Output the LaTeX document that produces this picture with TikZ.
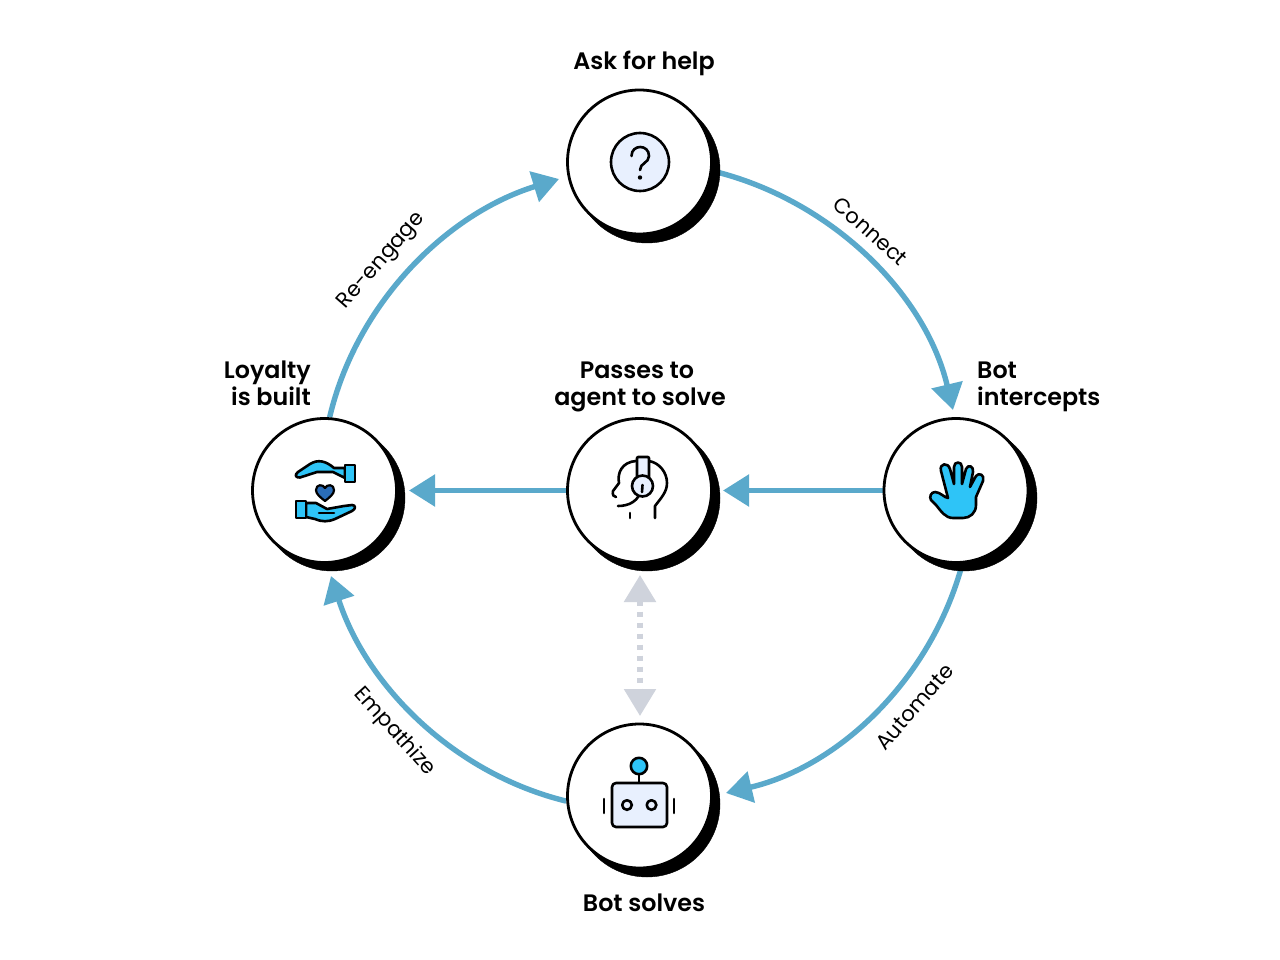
\documentclass[tikz,border=0pt]{standalone}
\usepackage{fontspec}
\setmainfont{Poppins}[BoldFont={Poppins SemiBold}]
\usetikzlibrary{arrows.meta,backgrounds}
\definecolor{flow}{HTML}{5AA9CB}
\definecolor{greyflow}{HTML}{CFD3DC}
\definecolor{sky}{HTML}{2EC4F7}
\definecolor{pale}{HTML}{E8F0FE}
\definecolor{heartc}{HTML}{2A6DB8}
\tikzset{
 shade/.style={circle,fill=black,draw=black,inner sep=0,minimum size=146pt},
 disc/.style={circle,fill=white,draw=black,line width=2.8pt,inner sep=0,minimum size=144pt},
 flowline/.style={draw=flow,line width=5.4pt,-{Triangle[length=26pt,width=31pt]}},
 greyline/.style={draw=greyflow,line width=5.5pt,dash pattern=on 5.5pt off 5.5pt,{Triangle[length=27pt,width=31pt,fill=greyflow]}-{Triangle[length=27pt,width=31pt,fill=greyflow]}},
 title/.style={font=\bfseries\fontsize{23.8}{27}\selectfont,inner sep=0},
 edgelabel/.style={font=\fontsize{21.2}{25}\selectfont,inner sep=0},
 ink/.style={draw=black,line width=2.6pt,line cap=round,line join=round},
}
\begin{document}
\begin{tikzpicture}[x=1pt,y=-1pt]
\useasboundingbox (0,0) rectangle (1280,960);
% shadows
\node[shade] (s1) at (647,170) {};
\node[shade] (s2) at (964,498) {};
\node[shade] (s3) at (647,498) {};
\node[shade] (s4) at (332,498) {};
\node[shade] (s5) at (647,804) {};
% discs
\node[disc] (ask) at (639.5,162) {};
\node[disc] (bot) at (956,490.5) {};
\node[disc] (agent) at (639.5,490.5) {};
\node[disc] (loyal) at (324.5,490.5) {};
\node[disc] (solve) at (639.5,796) {};
% arrow tips
\coordinate (t1) at (953,410);
\coordinate (t2) at (726,793);
\coordinate (t3) at (331,576);
\coordinate (t4) at (559,179);
\coordinate (t5) at (723,490.5);
\coordinate (t6) at (409,490.5);
\coordinate (g1) at (640,575);
\coordinate (g2) at (640,716);
\begin{scope}[on background layer]
\fill[white] (0,0) rectangle (1280,960);
\draw[flowline] (ask.-7) .. controls (829,199) and (925,292) .. (t1);
\draw[flowline] (bot.-85) .. controls (932,677) and (841,766) .. (t2);
\draw[flowline] (solve.184) .. controls (455,774) and (367,687) .. (t3);
\draw[flowline] (loyal.86) .. controls (356.5,303.5) and (446,214) .. (t4);
\draw[flowline] (bot.center) -- (t5);
\draw[flowline] (agent.center) -- (t6);
\draw[greyline] (g1) -- (g2);
\end{scope}
% labels
\node[title,anchor=base] (l1) at (644,70) {Ask for help};
\node[title,anchor=base west] (l2a) at (977,378) {Bot};
\node[title,anchor=base west] (l2b) at (977,405) {intercepts};
\node[title,anchor=base] (l3a) at (637,378) {Passes to};
\node[title,anchor=base] (l3b) at (640,405) {agent to solve};
\node[title,anchor=base east] (l4a) at (311,378) {Loyalty};
\node[title,anchor=base east] (l4b) at (311,405) {is built};
\node[title,anchor=base] (l5) at (644,911) {Bot solves};
\node[edgelabel,rotate=-42] (e1) at (870.5,231) {Connect};
\node[edgelabel,rotate=49] (e2) at (914.5,707) {Automate};
\node[edgelabel,rotate=-48] (e3) at (394.5,732) {Empathize};
\node[edgelabel,rotate=49] (e4) at (382,261) {Re-engage};
% question icon
\draw[ink,fill=pale] (640,162) circle (29);
\draw[ink] (631.5,156) .. controls (631.5,144) and (649,144) .. (649,156) .. controls (649,163) and (640,163) .. (640,170);
\fill (640,177.5) circle (2.2);
% hand icon
\draw[ink,fill=sky] (935,492) .. controls (940,492) and (945,498) .. (948,498)
 -- (941,471) .. controls (939,463) and (948,462) .. (950,469) -- (954,484)
 -- (954,467) .. controls (954,461) and (962,461) .. (962,467) -- (962,484)
 -- (966,469) .. controls (968,464) and (974,466) .. (973,472) -- (970,487)
 -- (976,476) .. controls (979,472) and (985,475) .. (983,481) -- (976,497)
 -- (976,505) .. controls (976,513) and (970,518) .. (963,518) -- (953,518)
 .. controls (945,518) and (941,511) .. (936,505) -- (931,500) .. controls (929,497) and (931,492) .. (935,492) -- cycle;
% headset agent icon
\draw[ink] (636,461) .. controls (622,462) and (617,473) .. (619,483) -- (613,491) .. controls (612,495) and (614,497) .. (616,497);
\draw[ink] (649,461) .. controls (660,463) and (667,473) .. (667,483) .. controls (667,492) and (661,498) .. (655,506) -- (655,518);
\draw[ink] (618,506) .. controls (628,506) and (640,502) .. (642,486);
\draw[ink] (630,513) -- (630,518);
\draw[ink,fill=pale,rounded corners=1pt] (637,457) -- (649,457) -- (649,478) -- (637,478) -- cycle;
\draw[ink,fill=pale] (642.5,486) circle (10.5);
\draw[ink] (642.5,485) -- (642,492);
% hands icon
\draw[ink,fill=sky] (345,468) -- (334,468) .. controls (326,461) and (318,459) .. (310,464) -- (298,472) .. controls (294,475) and (296,478) .. (300,477.5) -- (317,472) -- (333,472) -- (345,478) -- cycle;
\draw[ink,fill=sky] (345,465) rectangle (355,482);
\draw[ink,fill=sky] (306,503) -- (316,503) -- (327,509) -- (344,506) -- (352,505) .. controls (356,505) and (356,509) .. (352,511) -- (335,519) .. controls (328,522) and (322,522) .. (315,519) -- (306,517) -- cycle;
\draw[ink,fill=sky] (296,501) rectangle (306,518);
\draw[ink] (319,513) -- (334,513);
\draw[line width=2.2pt,fill=heartc,line join=round] (325,501) .. controls (320,497) and (316,494) .. (316,490) .. controls (316,484) and (323,484) .. (325,488) .. controls (327,484) and (334,484) .. (334,490) .. controls (334,494) and (330,497) .. (325,501) -- cycle;
% robot icon
\draw[ink] (639,774) -- (639,783);
\draw[ink,fill=sky] (639,766) circle (8.2);
\draw[ink,fill=pale,rounded corners=4pt] (612,783) rectangle (667,827);
\draw[ink] (627,805) circle (4.8);
\draw[ink] (651.5,805) circle (4.8);
\draw[ink] (604,799) -- (604,813);
\draw[ink] (674,799) -- (674,813);
\end{tikzpicture}
\end{document}
